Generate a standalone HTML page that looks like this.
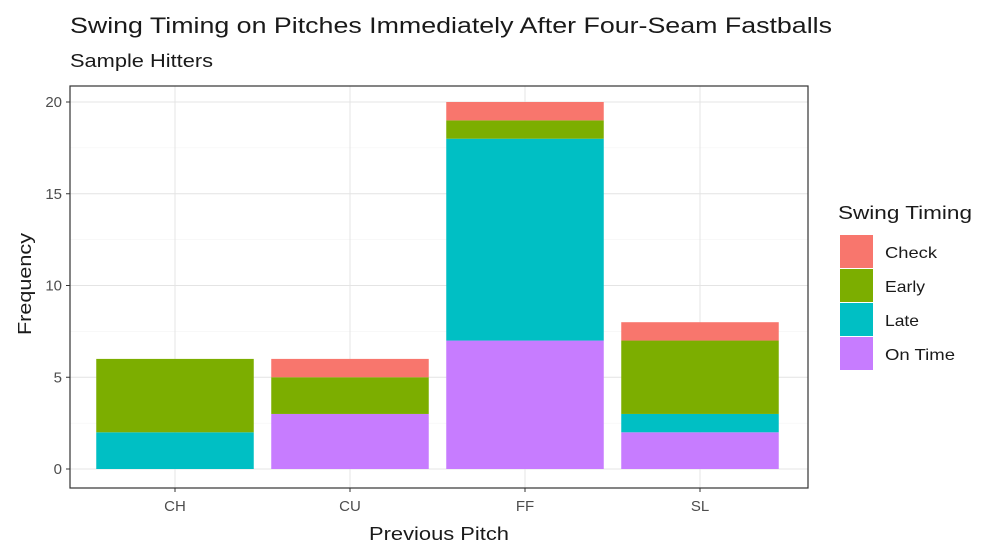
<!DOCTYPE html>
<html><head><meta charset="utf-8"><style>
body{margin:0;background:#fff;}
svg text{font-family:"Liberation Sans",Arial,sans-serif;}
</style></head><body>
<svg id="chart" width="992" height="552" viewBox="0 0 992 552" xmlns="http://www.w3.org/2000/svg">
<rect width="992" height="552" fill="#fff"/>
<text x="70" y="33" font-size="22" fill="#1a1a1a" textLength="762" lengthAdjust="spacingAndGlyphs">Swing Timing on Pitches Immediately After Four-Seam Fastballs</text>
<text x="70" y="67" font-size="18" fill="#1a1a1a" textLength="143" lengthAdjust="spacingAndGlyphs">Sample Hitters</text>
<g id="grid"></g>
<g id="bars"></g>
<rect x="70" y="86" width="738" height="402" fill="none" stroke="#333" stroke-width="1.2"/>
<g id="axes"></g>
<text x="369" y="540" font-size="18" fill="#1a1a1a" textLength="140" lengthAdjust="spacingAndGlyphs">Previous Pitch</text>
<text transform="translate(31,335) rotate(-90)" font-size="18" fill="#1a1a1a" textLength="102" lengthAdjust="spacingAndGlyphs">Frequency</text>
<text x="838" y="219" font-size="18" fill="#1a1a1a" textLength="134" lengthAdjust="spacingAndGlyphs">Swing Timing</text>
<g id="legend"></g>
</svg>
<script>
const categories = ["CH","CU","FF","SL"];
const seriesNames = ["On Time","Late","Early","Check"];
const onTime = [0,3,7,2];
const late = [2,0,11,1];
const early = [4,2,1,4];
const check = [0,1,1,1];
const yTicks = [0,5,10,15,20];
const legendOrder = ["Check","Early","Late","On Time"];
const legendWidths = [52,40,34,70];
const colors = {"Check":"#F8766D","Early":"#7CAE00","Late":"#00BFC4","On Time":"#C77CFF"};

const NS="http://www.w3.org/2000/svg";
const y0=469, pxPerUnit=(469-102)/20;
const yScale=v=>y0-v*pxPerUnit;
const step=175, left=70;
const xCenter=i=>left+step*0.6+i*step;
const bw=step*0.9;
function mk(tag,attrs,parent){const e=document.createElementNS(NS,tag);for(const k in attrs)e.setAttribute(k,attrs[k]);parent.appendChild(e);return e;}
const grid=document.getElementById('grid'), bars=document.getElementById('bars'), axes=document.getElementById('axes'), legend=document.getElementById('legend');
mk('rect',{x:70,y:86,width:738,height:402,fill:'#fff'},grid);
for(let v=2.5;v<=20;v+=5){const l=mk('line',{x1:70,x2:808,y1:yScale(v),y2:yScale(v),stroke:'#f2f2f2','stroke-width':0.6},grid);

}
yTicks.forEach(v=>{const l=mk('line',{x1:70,x2:808,y1:yScale(v),y2:yScale(v),stroke:'#e4e4e4','stroke-width':1},grid);


const t=mk('line',{x1:66,x2:70,y1:yScale(v),y2:yScale(v),stroke:'#333'},axes);


const tx=mk('text',{x:62,y:yScale(v)+5,'font-size':15,'text-anchor':'end',fill:'#4d4d4d'},axes);tx.textContent=v;

});
const series={"On Time":onTime,"Late":late,"Early":early,"Check":check};
categories.forEach((c,i)=>{const cx=xCenter(i);
const g=mk('line',{x1:cx,x2:cx,y1:86,y2:488,stroke:'#e4e4e4'},grid);


let cum=0;
seriesNames.forEach(s=>{const v=series[s][i];if(v>0){const r=mk('rect',{x:cx-bw/2,y:yScale(cum+v),width:bw,height:v*pxPerUnit,fill:colors[s]},bars);

}cum+=v;});
const t=mk('line',{x1:cx,x2:cx,y1:488,y2:492,stroke:'#333'},axes);


const tx=mk('text',{x:cx,y:511,'font-size':15,'text-anchor':'middle',fill:'#4d4d4d'},axes);tx.textContent=c;

});
legendOrder.forEach((s,i)=>{const y=235+i*34;
const r=mk('rect',{x:840,y:y,width:33,height:33,fill:colors[s]},legend);


const t=mk('text',{x:885,y:y+23,'font-size':16,fill:'#1a1a1a',textLength:legendWidths[i],lengthAdjust:'spacingAndGlyphs'},legend);t.textContent=s;

});
</script>
</body></html>
